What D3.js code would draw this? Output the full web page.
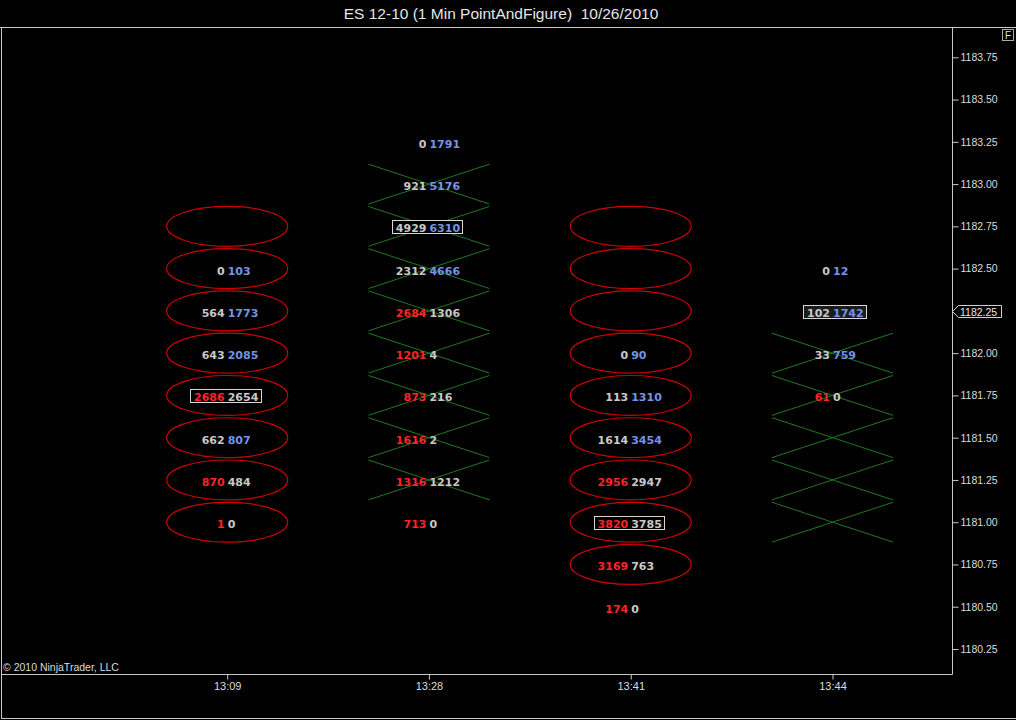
<!DOCTYPE html>
<html><head><meta charset="utf-8">
<script src="https://cdn.jsdelivr.net/npm/d3@7"></script>
<style>body{margin:0;background:#000;}svg{display:block;}</style>
</head><body>
<script>
// ---- data ----
const columns = ["13:09", "13:28", "13:41", "13:44"];
const colTypes = ["O", "X", "O", "X"];
const boxTop = [1182.75, 1183.00, 1182.75, 1182.00];
const boxBottom = [1181.00, 1181.25, 1180.75, 1181.00];
const rowPrices = [
  [1182.50, 1182.25, 1182.00, 1181.75, 1181.50, 1181.25, 1181.00],
  [1183.25, 1183.00, 1182.75, 1182.50, 1182.25, 1182.00, 1181.75, 1181.50, 1181.25, 1181.00],
  [1182.00, 1181.75, 1181.50, 1181.25, 1181.00, 1180.75, 1180.50],
  [1182.50, 1182.25, 1182.00, 1181.75]
];
const bidVolumes = [
  [0, 564, 643, 2686, 662, 870, 1],
  [0, 921, 4929, 2312, 2684, 1201, 873, 1616, 1316, 713],
  [0, 113, 1614, 2956, 3820, 3169, 174],
  [0, 102, 33, 61]
];
const askVolumes = [
  [103, 1773, 2085, 2654, 807, 484, 0],
  [1791, 5176, 6310, 4666, 1306, 4, 216, 2, 1212, 0],
  [90, 1310, 3454, 2947, 3785, 763, 0],
  [12, 1742, 759, 0]
];
const pocPrices = [1181.75, 1182.75, 1181.00, 1182.25];
const yTicks = [1183.75, 1183.50, 1183.25, 1183.00, 1182.75, 1182.50, 1182.25, 1182.00,
                1181.75, 1181.50, 1181.25, 1181.00, 1180.75, 1180.50, 1180.25];
const lastPrice = 1182.25;
const boxSize = 0.25;
const title = "ES 12-10 (1 Min PointAndFigure)  10/26/2010";
const copyright = "\u00A9 2010 NinjaTrader, LLC";

// ---- layout ----
const W = 1016, H = 720;
const plotLeft = 1, plotRight = 952, plotTop = 27, plotBottom = 674;
const C = {red: "#ff2424", gray: "#c8c8c8", blue: "#7593e6", ell: "#d00000",
           green: "#1f7a1f", axis: "#c8c8c8", text: "#dcdcdc"};

const svg = d3.select("body").append("svg").attr("width", W).attr("height", H)
  .style("background", "#000");

const y = d3.scaleLinear().domain([1180.25, 1183.75]).range([649, 57.3]);
const x = d3.scalePoint().domain(columns).range([227.2, 832.5]);
const boxPx = y(0) - y(boxSize); // pixel height of one box

// title
svg.append("text").attr("x", 501).attr("y", 19).attr("text-anchor", "middle")
  .style("white-space", "pre")
  .attr("font-family", "Liberation Sans, Arial, sans-serif").attr("font-size", 15.5)
  .attr("fill", "#e6e6e6").text(title);

// frame lines
const frame = svg.append("g").attr("stroke", C.axis).attr("fill", "none").attr("stroke-width", 1);
frame.append("line").attr("x1", 0).attr("x2", W).attr("y1", plotTop + 0.5).attr("y2", plotTop + 0.5);
frame.append("line").attr("x1", plotLeft + 0.5).attr("x2", plotLeft + 0.5).attr("y1", plotTop).attr("y2", 718.5);
frame.append("line").attr("x1", plotLeft).attr("x2", W).attr("y1", 718.5).attr("y2", 718.5);

// y axis (right)
const yAxis = d3.axisRight(y).tickValues(yTicks).tickSize(6).tickPadding(2)
  .tickFormat(d3.format(".2f"));
const gy = svg.append("g").attr("transform", `translate(${plotRight + 0.5},0)`).call(yAxis);
gy.select(".domain").remove();
gy.selectAll(".tick line").attr("stroke", C.axis);
gy.selectAll(".tick text").attr("fill", C.text).attr("font-size", 10.5)
  .attr("font-family", "Liberation Sans, Arial, sans-serif");
svg.append("line").attr("x1", plotRight + 0.5).attr("x2", plotRight + 0.5)
  .attr("y1", plotTop).attr("y2", plotBottom + 0.5).attr("stroke", C.axis);

// x axis
const xAxis = d3.axisBottom(x).tickSize(5).tickPadding(3);
const gx = svg.append("g").attr("transform", `translate(0,${plotBottom + 0.5})`).call(xAxis);
gx.select(".domain").remove();
gx.selectAll(".tick line").attr("stroke", C.axis);
gx.selectAll(".tick text").attr("fill", C.text).attr("font-size", 11)
  .attr("font-family", "Liberation Sans, Arial, sans-serif");
svg.append("line").attr("x1", plotLeft).attr("x2", plotRight + 0.5)
  .attr("y1", plotBottom + 0.5).attr("y2", plotBottom + 0.5).attr("stroke", C.axis);

// copyright
svg.append("text").attr("x", 3).attr("y", 671)
  .attr("font-family", "Liberation Sans, Arial, sans-serif").attr("font-size", 10.5)
  .attr("fill", C.text).text(copyright);

// F box
svg.append("rect").attr("x", 1002.5).attr("y", 29.5).attr("width", 11).attr("height", 11)
  .attr("fill", "none").attr("stroke", "#aaa");
svg.append("text").attr("x", 1008).attr("y", 39).attr("text-anchor", "middle")
  .attr("font-family", "Liberation Sans, Arial, sans-serif").attr("font-size", 10)
  .attr("fill", "#ddd").text("F");

// last price marker
{
  const yp = Math.round(y(lastPrice)) + 0.5;
  const g = svg.append("g");
  g.append("path").attr("d", `M${plotRight + 0.5},${yp} L${plotRight + 6.5},${yp - 6} H1001.5 V${yp + 6} H${plotRight + 6.5} Z`)
    .attr("fill", "#000").attr("stroke", "#d0d0d0");
  g.append("text").attr("x", 960).attr("y", yp + 4).attr("font-size", 10.5)
    .attr("font-family", "Liberation Sans, Arial, sans-serif").attr("fill", "#e6e6e6")
    .text(d3.format(".2f")(lastPrice));
}

// P&F boxes
const halfW = 60.5, halfH = boxPx / 2 - 1.2;
columns.forEach((col, i) => {
  const cx = x(col);
  const prices = d3.range(boxBottom[i], boxTop[i] + boxSize / 2, boxSize);
  const g = svg.append("g");
  if (colTypes[i] === "O") {
    g.selectAll("ellipse").data(prices).join("ellipse")
      .attr("cx", cx).attr("cy", d => y(d)).attr("rx", halfW).attr("ry", halfH)
      .attr("fill", "none").attr("stroke", C.ell).attr("stroke-width", 1.2);
  } else {
    g.selectAll("path").data(prices).join("path")
      .attr("d", d => {
        const yc = y(d);
        return `M${cx - halfW},${yc - halfH} L${cx + halfW},${yc + halfH} M${cx - halfW},${yc + halfH} L${cx + halfW},${yc - halfH}`;
      })
      .attr("fill", "none").attr("stroke", C.green).attr("stroke-width", 1);
  }
});

// volume labels
columns.forEach((col, i) => {
  const cx = x(col);
  rowPrices[i].forEach((p, j) => {
    const bid = bidVolumes[i][j], ask = askVolumes[i][j];
    const yc = y(p);
    const g = svg.append("g");
    const isPoc = p === pocPrices[i];
    const rect = isPoc ? g.append("rect") : null;
    const t1 = g.append("text").attr("x", cx - 2.5).attr("y", yc + 6).attr("text-anchor", "end")
      .attr("font-family", "DejaVu Sans, Verdana, sans-serif").attr("font-weight", "bold")
      .attr("font-size", 11).attr("fill", bid > ask ? C.red : C.gray).text(bid);
    const t2 = g.append("text").attr("x", cx + 0.5).attr("y", yc + 6).attr("text-anchor", "start")
      .attr("font-family", "DejaVu Sans, Verdana, sans-serif").attr("font-weight", "bold")
      .attr("font-size", 11).attr("fill", ask > bid ? C.blue : C.gray).text(ask);
    if (isPoc) {
      const b1 = t1.node().getBBox(), b2 = t2.node().getBBox();
      const x0 = Math.round(b1.x) - 3.5, x1 = Math.round(b2.x + b2.width) + 2.5;
      rect.attr("x", x0).attr("y", Math.round(yc) - 5.5).attr("width", x1 - x0).attr("height", 13)
        .attr("fill", i === columns.length - 1 ? "#1c1c1c" : "#000").attr("stroke", "#d8d8d8");
    }
  });
});
</script>
</body></html>
